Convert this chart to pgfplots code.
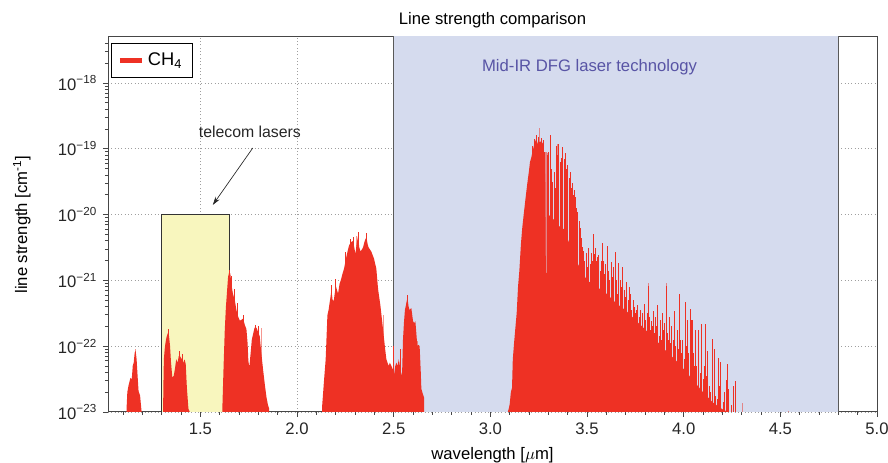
\documentclass[border=0pt]{standalone}
\usepackage{fontspec}
\setmainfont{Liberation Sans}
\usepackage{pgfplots}
\pgfplotsset{compat=1.18}
\usetikzlibrary{arrows.meta}

\definecolor{specred}{RGB}{238,49,36}
\definecolor{bluebox}{RGB}{213,219,238}
\definecolor{yellowbox}{RGB}{248,246,190}
\definecolor{labelblue}{RGB}{88,84,165}
\definecolor{axisgray}{RGB}{70,70,70}

\pgfplotsset{
  layers/boxesunder/.define layer set={axis background,axis grid,main,axis ticks,axis lines,axis tick labels,axis descriptions,axis foreground}{},
}

\begin{document}
\begin{tikzpicture}
\begin{axis}[
    set layers=boxesunder,
    scale only axis,
    width=461.4pt, height=225pt,
    ymode=log, log origin y=infty,
    xmin=1.022, xmax=5.0,
    ymin=1e-23, ymax=5e-18,
    xtick={1.5,2,2.5,3,3.5,4,4.5,5},
    xticklabels={1.5,2.0,2.5,3.0,3.5,4.0,4.5,5.0},
    minor xtick={1.1,1.2,1.3,1.4,1.6,1.7,1.8,1.9,2.1,2.2,2.3,2.4,2.6,2.7,2.8,2.9,3.1,3.2,3.3,3.4,3.6,3.7,3.8,3.9,4.1,4.2,4.3,4.4,4.6,4.7,4.8,4.9},
    ytick={1e-23,1e-22,1e-21,1e-20,1e-19,1e-18},
    yticklabels={10\textsuperscript{−23},10\textsuperscript{−22},10\textsuperscript{−21},10\textsuperscript{−20},10\textsuperscript{−19},10\textsuperscript{−18}},
    minor ytick={2e-23,3e-23,4e-23,5e-23,6e-23,7e-23,8e-23,9e-23,
                 2e-22,3e-22,4e-22,5e-22,6e-22,7e-22,8e-22,9e-22,
                 2e-21,3e-21,4e-21,5e-21,6e-21,7e-21,8e-21,9e-21,
                 2e-20,3e-20,4e-20,5e-20,6e-20,7e-20,8e-20,9e-20,
                 2e-19,3e-19,4e-19,5e-19,6e-19,7e-19,8e-19,9e-19,
                 2e-18,3e-18,4e-18},
    xtick pos=bottom, ytick pos=left,
    tick align=outside,
    major tick length=3pt, minor tick length=1.8pt,
    every tick/.style={axisgray, line width=0.5pt},
    axis line style={axisgray, line width=0.6pt},
    tick label style={font=\fontsize{10}{12}\selectfont, text=black!85},
    ymajorgrids, xmajorgrids,
    major grid style={gray!75, line width=0.5pt, dash pattern=on 0.6pt off 1.4pt},
    xlabel={wavelength [$\mu$m]},
    ylabel={line strength [cm\textsuperscript{-1}]},
    every axis x label/.style={at={(axis description cs:0.5,-0.115)}, anchor=center, font=\fontsize{10}{12}\selectfont},
    every axis y label/.style={at={(axis description cs:-0.112,0.5)}, anchor=center, rotate=90, font=\fontsize{10}{12}\selectfont},
    title={Line strength comparison},
    every axis title/.style={at={(axis description cs:0.5,1.045)}, anchor=center, font=\fontsize{10}{12}\selectfont},
    legend style={at={(axis description cs:0.0035,0.983)}, anchor=north west,
        draw=black, line width=0.5pt, font=\fontsize{11}{13}\selectfont,
        inner xsep=4pt, inner ysep=3.5pt},
    legend cell align=left,
]

% shaded technology regions
\filldraw[fill=yellowbox, draw=black!80, line width=0.6pt] (axis cs:1.3,1e-24) rectangle (axis cs:1.65,1e-20);
\filldraw[fill=bluebox, draw=black!65, line width=0.6pt] (axis cs:2.5,1e-24) rectangle (axis cs:4.8,1e-16);

\addlegendimage{specred, legend image code/.code={\draw[specred, line width=2.6pt] (0pt,0pt) -- (13.5pt,0pt);}}
\addlegendentry{CH\textsubscript{4}\hspace{7pt}}

% band near 1.16 um
\addplot[fill=specred, draw=none, forget plot] coordinates {
(1.115,1e-24) (1.118,1.12e-23) (1.122,2.0e-23) (1.128,2.51e-23) (1.138,3.31e-23)
(1.145,3.16e-23) (1.150,5.01e-23) (1.155,5.62e-23) (1.160,7.94e-23) (1.165,8.51e-23)
(1.170,6.31e-23) (1.175,3.55e-23) (1.180,2.09e-23) (1.188,1.78e-23) (1.192,1.32e-23)
(1.196,1.0e-23) (1.197,1e-24)
};
% band near 1.35 um
\addplot[fill=specred, draw=none, forget plot] coordinates {
(1.305,1e-24) (1.308,2.0e-23) (1.311,6.31e-23) (1.316,9.55e-23) (1.322,1.26e-22)
(1.326,1.41e-22) (1.333,1.62e-22) (1.338,1.41e-22) (1.343,1.0e-22) (1.348,5.62e-23)
(1.355,3.31e-23) (1.362,3.55e-23) (1.368,4.47e-23) (1.375,6.31e-23) (1.382,5.62e-23)
(1.388,7.08e-23) (1.394,7.08e-23) (1.400,6.61e-23) (1.406,6.31e-23) (1.412,5.62e-23)
(1.418,6.31e-23) (1.424,5.37e-23) (1.430,2.34e-23) (1.438,1.12e-23) (1.445,1.0e-23)
(1.446,1e-24)
};
% band near 1.65 um
\addplot[fill=specred, draw=none, forget plot] coordinates {
(1.612,1e-24) (1.614,1.26e-23) (1.620,5.01e-23) (1.626,1.74e-22) (1.632,3.98e-22)
(1.637,6.31e-22) (1.643,1.12e-21) (1.649,1.35e-21) (1.655,1.26e-21) (1.660,8.91e-22)
(1.668,6.31e-22) (1.678,5.01e-22) (1.687,3.47e-22) (1.695,2.82e-22) (1.704,2.45e-22)
(1.712,2.51e-22) (1.721,2.63e-22) (1.730,2.09e-22) (1.738,1.82e-22) (1.744,1.12e-22)
(1.748,6.03e-23) (1.753,4.79e-23) (1.760,7.94e-23) (1.766,1.26e-22) (1.773,1.55e-22)
(1.780,1.91e-22) (1.790,1.91e-22) (1.798,1.66e-22) (1.807,1.41e-22) (1.815,7.94e-23)
(1.824,4.47e-23) (1.834,2.51e-23) (1.842,1.66e-23) (1.850,1.26e-23) (1.856,1.12e-23)
(1.859,1e-24)
};
% band near 2.3 um
\addplot[fill=specred, draw=none, forget plot] coordinates {
(2.127,1e-24) (2.130,1.26e-23) (2.140,3.16e-23) (2.148,6.31e-23) (2.157,2.95e-22)
(2.163,3.55e-22) (2.169,4.68e-22) (2.178,7.08e-22) (2.184,5.01e-22) (2.190,4.90e-22)
(2.200,8.32e-22) (2.212,6.31e-22) (2.220,8.91e-22) (2.226,1.0e-21) (2.235,1.26e-21)
(2.243,1.51e-21) (2.255,2.29e-21) (2.262,2.82e-21) (2.269,3.39e-21) (2.278,3.80e-21)
(2.290,3.98e-21) (2.302,2.51e-21) (2.308,3.55e-21) (2.315,4.68e-21) (2.322,3.16e-21)
(2.329,2.75e-21) (2.341,3.16e-21) (2.350,3.98e-21) (2.359,4.57e-21) (2.365,3.55e-21)
(2.370,3.16e-21) (2.384,2.75e-21) (2.398,2.14e-21) (2.410,1.51e-21) (2.419,7.41e-22)
(2.431,4.17e-22) (2.441,2.29e-22) (2.450,1.29e-22) (2.456,8.91e-23) (2.462,6.31e-23)
(2.474,5.01e-23) (2.480,5.62e-23) (2.488,5.01e-23) (2.495,4.47e-23) (2.501,3.55e-23)
(2.508,5.01e-23) (2.514,5.62e-23) (2.520,5.01e-23) (2.526,6.31e-23) (2.532,5.01e-23)
(2.538,3.98e-23) (2.543,3.55e-23) (2.548,1.26e-22) (2.553,2.29e-22) (2.558,3.55e-22)
(2.563,4.17e-22) (2.568,5.01e-22) (2.572,5.25e-22) (2.577,3.98e-22) (2.582,3.55e-22)
(2.591,3.80e-22) (2.600,2.40e-22) (2.606,2.24e-22) (2.612,2.40e-22) (2.617,1.58e-22)
(2.622,1.0e-22) (2.628,1.05e-22) (2.634,1.0e-22) (2.640,3.98e-23) (2.643,2.24e-23)
(2.650,1.91e-23) (2.657,1.66e-23) (2.660,1e-24)
};
% band near 3.3 um, dense part
\addplot[fill=specred, draw=none, forget plot] coordinates {
(3.087,1e-24) (3.090,1.0e-23) (3.095,1.12e-23) (3.100,1.32e-23) (3.106,2.0e-23)
(3.112,2.34e-23) (3.116,6.31e-23) (3.122,1.07e-22) (3.130,2.0e-22) (3.136,3.16e-22)
(3.143,7.94e-22) (3.150,1.41e-21) (3.158,3.55e-21) (3.165,6.31e-21) (3.172,9.77e-21)
(3.180,1.58e-20) (3.190,2.82e-20) (3.199,4.47e-20) (3.205,6.31e-20) (3.211,7.24e-20)
(3.220,9.55e-20) (3.228,1.20e-19) (3.237,1.41e-19) (3.246,1.17e-19) (3.255,1.29e-19)
(3.264,1.29e-19) (3.272,1.20e-19) (3.280,7.59e-20) (3.284,3.0e-20) (3.287,1.3e-21)
(3.298,1.3e-21) (3.300,1.0e-20) (3.335,8.0e-21) (3.337,7.6e-22) (3.343,7.6e-22)
(3.345,7.0e-21) (3.380,6.0e-21) (3.420,3.0e-21) (3.460,1.6e-21) (3.500,1.0e-21)
(3.550,8.0e-22) (3.600,6.3e-22) (3.650,4.5e-22) (3.700,3.5e-22) (3.750,2.5e-22)
(3.800,1.8e-22) (3.850,1.3e-22) (3.900,9.0e-23) (3.950,6.5e-23) (4.000,4.5e-23)
(4.050,3.0e-23) (4.100,2.0e-23) (4.150,1.4e-23) (4.200,1.1e-23) (4.230,1.0e-23)
(4.231,1e-24)
};

% individual strong lines
\addplot[ycomb, specred, line width=0.5pt, forget plot] coordinates {
(1.337,1.8e-22) (1.392,8.5e-23) (1.405,7.5e-23)
(1.652,1.45e-21) (1.660,1.15e-21) (1.675,7.5e-22) (1.690,4.5e-22) (1.722,3.0e-22)
(1.785,2.1e-22) (1.800,2.0e-22)
(2.178,8.5e-22) (2.200,1.05e-21) (2.250,2.7e-21) (2.278,4.2e-21) (2.290,4.6e-21)
(2.315,5.5e-21) (2.359,5.2e-21) (2.500,1.0e-22) (2.534,9.0e-23) (2.572,6.0e-22)
(3.220,1.1e-19) (3.228,1.41e-19) (3.237,1.62e-19) (3.246,1.51e-19) (3.264,1.45e-19)
(3.272,1.35e-19) (3.280,9.0e-20)
(3.295,7.94e-20) (3.302,8.91e-20) (3.310,1.62e-19) (3.316,5.01e-20) (3.323,3.16e-20)
(3.332,4.47e-20) (3.338,2.51e-20) (3.344,1.10e-19) (3.349,7.94e-20) (3.354,1.20e-19)
(3.360,6.31e-20) (3.366,7.24e-20) (3.370,5.01e-20) (3.375,1.07e-19) (3.382,7.08e-20)
(3.389,8.51e-20) (3.395,5.01e-20) (3.401,5.75e-20) (3.407,3.55e-20) (3.413,4.47e-20)
(3.418,2.51e-20) (3.423,3.02e-20) (3.430,2.0e-20) (3.436,2.40e-20) (3.440,1.86e-20)
(3.446,1.26e-20) (3.452,1.10e-20) (3.458,7.94e-21) (3.465,6.17e-21) (3.470,4.47e-21)
(3.475,3.24e-21) (3.482,2.82e-21) (3.488,2.0e-21) (3.496,2.57e-21) (3.503,1.58e-21)
(3.509,3.16e-21) (3.515,1.78e-21) (3.521,2.63e-21) (3.527,2.0e-21) (3.533,5.13e-21)
(3.539,2.51e-21) (3.544,3.09e-21) (3.550,2.0e-21) (3.556,2.24e-21) (3.561,2.40e-21)
(3.567,1.41e-21) (3.572,2.0e-21) (3.578,3.72e-21) (3.585,2.0e-21) (3.591,1.26e-21)
(3.597,1.78e-21) (3.606,3.39e-21) (3.612,1.41e-21) (3.618,1.0e-21) (3.625,1.91e-21)
(3.631,1.12e-21) (3.638,1.58e-21) (3.645,2.69e-21) (3.652,1.0e-21) (3.658,6.31e-22)
(3.664,1.82e-21) (3.672,1.0e-21) (3.678,7.94e-22) (3.685,1.58e-21) (3.692,7.08e-22)
(3.698,5.62e-22) (3.705,9.33e-22) (3.712,5.01e-22) (3.718,7.94e-22) (3.725,6.31e-22)
(3.732,3.55e-22) (3.738,5.01e-22) (3.745,3.89e-22) (3.752,3.16e-22) (3.758,3.55e-22)
(3.762,4.17e-22) (3.770,2.82e-22) (3.775,3.55e-22) (3.780,1.95e-22) (3.788,3.16e-22)
(3.797,4.37e-22) (3.804,2.51e-22) (3.810,3.16e-22) (3.816,8.32e-22) (3.822,2.82e-22)
(3.828,1.78e-22) (3.832,2.45e-22) (3.838,2.0e-22) (3.843,3.47e-22) (3.850,1.58e-22)
(3.856,2.82e-22) (3.861,2.0e-22) (3.866,4.17e-22) (3.872,1.41e-22) (3.878,2.51e-22)
(3.883,1.26e-22) (3.888,3.16e-22) (3.895,1.78e-22) (3.902,2.24e-22) (3.909,8.32e-22)
(3.915,1.58e-22) (3.920,1.26e-22) (3.926,2.75e-22) (3.932,1.12e-22) (3.938,2.0e-22)
(3.945,1.26e-22) (3.952,3.47e-22) (3.958,1.0e-22) (3.965,1.78e-22) (3.971,8.91e-23)
(3.978,6.17e-22) (3.984,1.26e-22) (3.990,7.94e-23) (3.995,1.26e-22) (4.002,6.31e-23)
(4.007,4.68e-22) (4.013,1.0e-22) (4.020,2.51e-22) (4.026,7.94e-23) (4.033,3.72e-22)
(4.038,2.51e-22) (4.043,2.51e-22) (4.050,7.76e-23) (4.056,5.01e-23) (4.061,1.78e-22)
(4.067,5.01e-23) (4.074,1.55e-22) (4.078,1.78e-22) (4.085,3.98e-23) (4.092,2.14e-22)
(4.100,3.16e-23) (4.106,5.01e-23) (4.111,1.78e-22) (4.114,2.19e-22) (4.120,3.55e-23)
(4.125,8.51e-23) (4.133,2.51e-23) (4.140,2.0e-23) (4.147,1.29e-22) (4.150,8.51e-23)
(4.158,9.12e-23) (4.165,1.78e-23) (4.172,1.58e-23) (4.181,6.61e-23) (4.186,2.51e-23)
(4.190,5.75e-23) (4.205,1.41e-23) (4.212,2.0e-23) (4.219,3.02e-23) (4.226,5.37e-23)
(4.232,2.24e-23) (4.245,1.26e-23) (4.257,2.51e-23) (4.265,2.95e-23) (4.270,1.58e-23)
};
% weaker, partly blended lines
\addplot[ycomb, specred, opacity=0.5, line width=0.5pt, forget plot] coordinates {
(1.165,9.0e-23) (1.815,1.9e-22) (2.305,4.8e-21) (2.445,3.0e-22) (2.620,1.2e-22)
(3.255,2.09e-19) (3.287,9.0e-20) (3.292,9.0e-20) (3.297,8.5e-20) (3.345,1.2e-19)
(3.816,9.0e-22) (3.909,9.0e-22) (4.302,1.38e-23) (4.540,1.05e-23)
};

% annotations
\node[font=\fontsize{9.5}{11}\selectfont, text=black!85] at (axis cs:1.756,1.8e-19) {telecom lasers};
\draw[-{Stealth[length=5pt,width=3pt]}, line width=0.4pt, black!85] (axis cs:1.771,1.03e-19) -- (axis cs:1.564,1.4e-20);
\node[font=\fontsize{10}{12}\selectfont, text=labelblue] at (axis cs:3.513,1.73e-18) {Mid-IR DFG laser technology};
\end{axis}
\pgfresetboundingbox
\path[use as bounding box] (-64.8pt,-30.6pt) rectangle (468pt,247.2pt);
\end{tikzpicture}
\end{document}
